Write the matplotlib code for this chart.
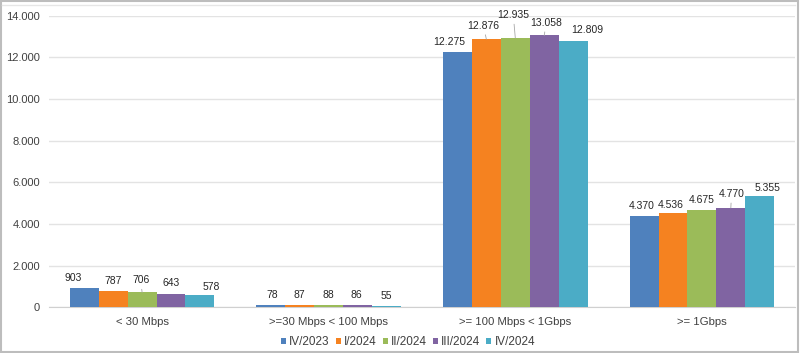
import matplotlib.pyplot as plt
from matplotlib.patches import Rectangle
from matplotlib.lines import Line2D
import numpy as np

plt.rcParams['font.family'] = ['Liberation Sans', 'DejaVu Sans']

categories = ['< 30 Mbps', '>=30 Mbps < 100 Mbps', '>= 100 Mbps < 1Gbps', '>= 1Gbps']
periods = ['IV/2023', 'I/2024', 'II/2024', 'III/2024', 'IV/2024']
values = {
    'IV/2023': [903, 78, 12275, 4370],
    'I/2024': [787, 87, 12876, 4536],
    'II/2024': [706, 88, 12935, 4675],
    'III/2024': [643, 86, 13058, 4770],
    'IV/2024': [578, 55, 12809, 5355],
}
colors = ['#4f81bd', '#f58220', '#9bbb59', '#8064a2', '#4bacc6']
y_ticks = [0, 2000, 4000, 6000, 8000, 10000, 12000, 14000]

# label placement (px from bar top centre), like Excel's nudged labels
label_offsets = {
    'IV/2023': [(-11, 10.7), (1, 10), (-8, 9.7), (-2, 10)],
    'I/2024': [(0, 10), (0, 10), (-3, 13.6), (-2, 7.3)],
    'II/2024': [(-1.5, 12.3), (0, 10), (-2, 23), (0, 10)],
    'III/2024': [(0, 11), (-1, 10), (2, 12.7), (0.7, 14)],
    'IV/2024': [(11, 7.7), (0, 10), (14.5, 11), (8, 7.4)],
}
leaders = {('II/2024', 0), ('I/2024', 2), ('II/2024', 2), ('III/2024', 2), ('III/2024', 3)}


def fmt(v):
    # thousands separator as dot
    return f"{v:,}".replace(',', '.')


fig = plt.figure(figsize=(8, 3.53), dpi=100)
ax = fig.add_axes([0.061, 0.130, 0.933, 0.825])

px = 72 / fig.dpi
x = np.arange(len(categories))
width = 0.155
for i, p in enumerate(periods):
    pos = x + (i - 2) * width
    bars = ax.bar(pos, values[p], width, color=colors[i], label=p, zorder=3)
    for j, (b, v) in enumerate(zip(bars, values[p])):
        dx, dy = label_offsets[p][j]
        arrow = None
        if (p, j) in leaders:
            arrow = dict(arrowstyle='-', color='#a6a6a6', lw=0.6, shrinkA=1, shrinkB=0)
        ax.annotate(fmt(v), (b.get_x() + b.get_width() / 2, b.get_height()),
                    xytext=(dx * px, dy * px), textcoords='offset points',
                    ha='center', va='center', fontsize=7.5, color='#262626',
                    arrowprops=arrow, zorder=4)

ax.set_xlim(-0.5, 3.5)
ax.set_ylim(0, 14000)
ax.set_yticks(y_ticks)
ax.set_yticklabels([fmt(t) for t in y_ticks], fontsize=8)
ax.set_xticks(x)
ax.set_xticklabels(categories, fontsize=8.2)
ax.tick_params(axis='both', length=0, colors='#404040')
ax.tick_params(axis='x', pad=7)
ax.tick_params(axis='y', pad=6.5)
ax.grid(axis='y', color='#e3e3e3', linewidth=1, zorder=0)
for s in ['top', 'right', 'left']:
    ax.spines[s].set_visible(False)
ax.spines['bottom'].set_color('#d0d0d0')

fig.legend(*ax.get_legend_handles_labels(), loc='center',
           bbox_to_anchor=(408 / 800, 1 - 342 / 353), ncol=5,
           frameon=False, fontsize=8.5, handlelength=0.45, handleheight=0.45,
           handletextpad=0.25, columnspacing=0.5, labelcolor='#404040',
           borderpad=0)

# outer frame and faint inner top line
fig.patches.append(Rectangle((0.001, 0.003), 0.996, 0.995, transform=fig.transFigure,
                             fill=False, edgecolor='#bdbdbd', linewidth=1.5))
fig.lines.append(Line2D([0.002, 0.994], [1 - 5 / 353] * 2, transform=fig.transFigure,
                        color='#e6e6e6', linewidth=1))

fig.savefig('out.png', dpi=100)
